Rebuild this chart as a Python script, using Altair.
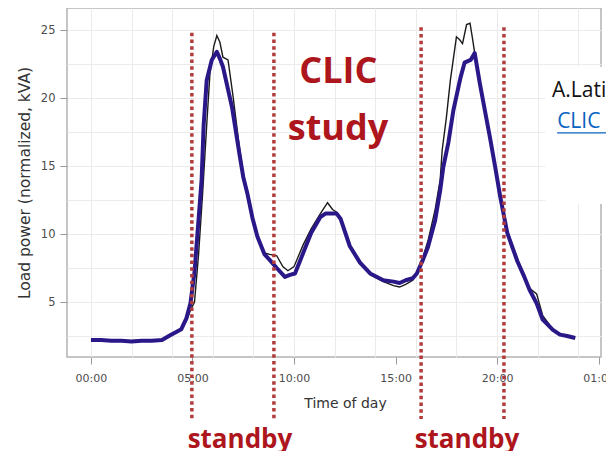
import altair as alt
import pandas as pd

# ---- data ----
blue_h = [0.0, 0.5, 1.0, 1.5, 2.0, 2.5, 3.0, 3.5, 3.9, 4.2, 4.45, 4.7, 4.9, 5.1, 5.27, 5.45,
          5.55, 5.7, 5.95, 6.2, 6.35, 6.5, 6.95, 7.3, 7.5, 7.7, 7.95, 8.2, 8.55, 8.8, 9.15,
          9.55, 9.8, 10.05, 10.45, 10.85, 11.3, 11.55, 12.1, 12.3, 12.75, 13.25, 13.75, 14.4,
          14.9, 15.2, 15.5, 15.85, 16.05, 16.35, 16.6, 16.95, 17.2, 17.35, 17.6, 17.85, 18.2,
          18.4, 18.7, 18.9, 19.15, 19.4, 19.65, 19.9, 20.15, 20.5, 21.0, 21.3, 21.6, 21.95,
          22.25, 22.75, 23.1, 23.45, 23.85]
blue_v = [2.2, 2.2, 2.15, 2.15, 2.1, 2.15, 2.15, 2.2, 2.55, 2.8, 3.0, 3.8, 4.9, 7.2, 10.5, 14.0,
          18.0, 21.3, 22.8, 23.4, 22.9, 22.3, 19.3, 16.0, 14.2, 13.0, 11.2, 9.8, 8.5, 8.1, 7.5,
          6.85, 7.0, 7.1, 8.6, 10.1, 11.25, 11.5, 11.5, 11.1, 9.1, 7.9, 7.1, 6.6,
          6.5, 6.4, 6.6, 6.75, 7.1, 8.1, 9.05, 11.0, 13.2, 14.9, 16.7, 19.1, 21.5,
          22.6, 22.8, 23.3, 21.1, 19.1, 17.1, 15.0, 12.8, 10.1, 8.0, 7.0, 5.9, 4.9,
          3.7, 2.95, 2.6, 2.5, 2.35]

black_h = [0.0, 0.5, 1.0, 1.5, 2.0, 2.5, 3.0, 3.5, 3.9, 4.2, 4.45, 4.7, 4.9, 5.1, 5.3, 5.5,
           5.7, 5.86, 6.05, 6.2, 6.35, 6.5, 6.75, 7.0, 7.3, 7.5, 7.7, 7.95, 8.2, 8.55, 8.8,
           9.15, 9.45, 9.7, 10.0, 10.45, 10.85, 11.3, 11.65, 11.9, 12.1, 12.3, 12.75, 13.25,
           13.75, 14.4, 14.9, 15.2, 15.5, 15.85, 16.05, 16.35, 16.6, 16.95, 17.2, 17.3, 17.5,
           17.7, 18.0, 18.15, 18.3, 18.5, 18.67, 18.8, 18.9, 19.15, 19.4, 19.65, 19.9, 20.15,
           20.5, 21.0, 21.3, 21.6, 21.95, 22.25, 22.75, 23.1, 23.45, 23.85]
black_v = [2.25, 2.2, 2.2, 2.15, 2.15, 2.2, 2.2, 2.25, 2.55, 2.8, 3.0, 3.6, 4.4, 5.0, 8.5, 13.0,
           18.0, 21.8, 23.8, 24.6, 24.1, 23.0, 22.8, 20.1, 16.5, 14.4, 13.1, 11.4, 9.9, 8.6, 8.5,
           8.4, 7.6, 7.3, 7.6, 9.2, 10.4, 11.5, 12.3, 11.8, 11.6, 11.2, 9.2, 7.9,
           7.0, 6.5, 6.2, 6.1, 6.3, 6.6, 7.2, 8.3, 9.5, 11.8, 14.0, 16.2, 18.5,
           21.3, 24.5, 24.3, 24.0, 25.4, 25.5, 24.3, 23.3, 21.2, 19.3, 17.3, 15.2, 12.9,
           10.2, 8.2, 7.1, 6.0, 5.6, 4.0, 3.0, 2.6, 2.5, 2.35]

standby_h = [4.97, 9.01, 16.26, 20.34]
standby_top = [24.8, 24.8, 25.2, 25.2]
standby_bottom = [-3.6, -3.6, -3.6, -3.6]

x_ticks = [0, 5, 10, 15, 20, 25]
x_grid = [0, 2, 4, 6, 8, 10, 12, 14, 16, 18, 20, 22, 24]
y_ticks = [5, 10, 15, 20, 25]
y_grid = [2.5, 5, 7.5, 10, 12.5, 15, 17.5, 20, 22.5, 25]

X_DOMAIN = [-1.18, 25.12]
Y_DOMAIN = [0.956, 26.62]

RED = "#ad161c"
DOT = "#b23c3c"
BLUE = "#2a1888"

blue_df = pd.DataFrame({"h": blue_h, "v": blue_v})
black_df = pd.DataFrame({"h": black_h, "v": black_v})
rules_df = pd.DataFrame({"h": standby_h, "top": standby_top, "bottom": standby_bottom})
big_text_df = pd.DataFrame({"h": [12.18, 12.17], "v": [21.1, 16.9], "t": ["CLIC", "study"]})
standby_df = pd.DataFrame({"h": [7.34, 18.52], "v": [-5.75, -5.75], "t": ["standby", "standby"]})
box_df = pd.DataFrame({"h": [22.36], "h2": [26.0], "v": [22.3], "v2": [12.2]})
author_df = pd.DataFrame({"h": [22.71], "v": [20.07], "t": ["A.Latina"]})
link_df = pd.DataFrame({"h": [22.96], "v": [17.8], "t": ["CLIC consortium"]})
underline_df = pd.DataFrame({"h": [22.96], "h2": [26.0], "v": [17.43]})

xs = alt.Scale(domain=X_DOMAIN, nice=False, zero=False)
ys = alt.Scale(domain=Y_DOMAIN, nice=False, zero=False)


def X(field="h", axis=None):
    return alt.X(f"{field}:Q", scale=xs, axis=axis)


def Y(field="v", axis=None):
    return alt.Y(f"{field}:Q", scale=ys, axis=axis)


grid_layer = alt.Chart(blue_df).mark_line(opacity=0).encode(
    x=X(axis=alt.Axis(orient="bottom", values=x_grid, grid=True, gridColor="#ebebeb", gridWidth=1,
                      labels=False, ticks=False, domain=False, title=None)),
    y=Y(axis=alt.Axis(orient="left", values=y_grid, grid=True, gridColor="#ebebeb", gridWidth=1,
                      labels=False, ticks=False, domain=False, title=None)),
)

black_line = alt.Chart(black_df).mark_line(color="#1a1a1a", strokeWidth=1.4).encode(
    x=X(), y=Y(), order="h:Q"
)

blue_line = alt.Chart(blue_df).mark_line(color=BLUE, strokeWidth=4, strokeJoin="round").encode(
    x=X(axis=alt.Axis(
        orient="bottom",
        values=x_ticks, grid=False, domain=False, tickColor="#999", tickSize=7, tickWidth=1,
        labelExpr="(datum.value % 24 < 10 ? '0' : '') + (datum.value % 24) + ':00'",
        labelFont="DejaVu Sans", labelFontSize=11, labelColor="#4d4d4d", labelPadding=8,
        title="Time of day", titleFont="DejaVu Sans", titleFontSize=14, titleFontWeight="normal",
        titleColor="#333", titleX=278, titleY=50, titleBaseline="alphabetic")),
    y=Y(axis=alt.Axis(
        orient="left",
        values=y_ticks, grid=False, domain=False, tickColor="#999", tickSize=7, tickWidth=1,
        labelFont="DejaVu Sans", labelFontSize=11.5, labelColor="#4d4d4d", labelPadding=5,
        title="Load power (normalized, kVA)", titleFont="DejaVu Sans", titleFontSize=15.5,
        titleFontWeight="normal", titleColor="#333", titlePadding=8)),
    order="h:Q",
)

box = alt.Chart(box_df).mark_rect(color="white").encode(
    x=X(), x2="h2:Q", y=Y(), y2="v2:Q"
)

rules = alt.Chart(rules_df).mark_rule(color=DOT, strokeWidth=3.5, strokeDash=[3.5, 3.2]).encode(
    x=X(), y=Y("top"), y2="bottom:Q"
)

big_text = alt.Chart(big_text_df).mark_text(
    font="Open Sans", fontWeight="bold", fontSize=36, color=RED, baseline="alphabetic",
    align="center"
).encode(x=X(), y=Y(), text="t:N")

standby_text = alt.Chart(standby_df).mark_text(
    font="Open Sans", fontWeight="bold", fontSize=26, color=RED, baseline="alphabetic",
    align="center"
).encode(x=X(), y=Y(), text="t:N")

author_text = alt.Chart(author_df).mark_text(
    font="Open Sans", fontSize=21, color="#111", baseline="alphabetic", align="left"
).encode(x=X(), y=Y(), text="t:N")

link_text = alt.Chart(link_df).mark_text(
    font="Open Sans", fontSize=21, color="#0563c1", baseline="alphabetic", align="left"
).encode(x=X(), y=Y(), text="t:N")

underline = alt.Chart(underline_df).mark_rule(color="#0563c1", strokeWidth=1.3).encode(
    x=X(), x2="h2:Q", y=Y()
)

chart = alt.layer(
    grid_layer, black_line, blue_line, box, rules, big_text, standby_text,
    author_text, link_text, underline
).resolve_axis(x="independent", y="independent").properties(
    width=534, height=349,
    autosize=alt.AutoSizeParams(type="none"),
    padding={"left": 59, "top": 0, "right": 5, "bottom": 94},
    background="white",
).configure_view(stroke="#b3b3b3", strokeWidth=1.5)

chart.save("out.html", embed_options={"renderer": "svg", "actions": False})
